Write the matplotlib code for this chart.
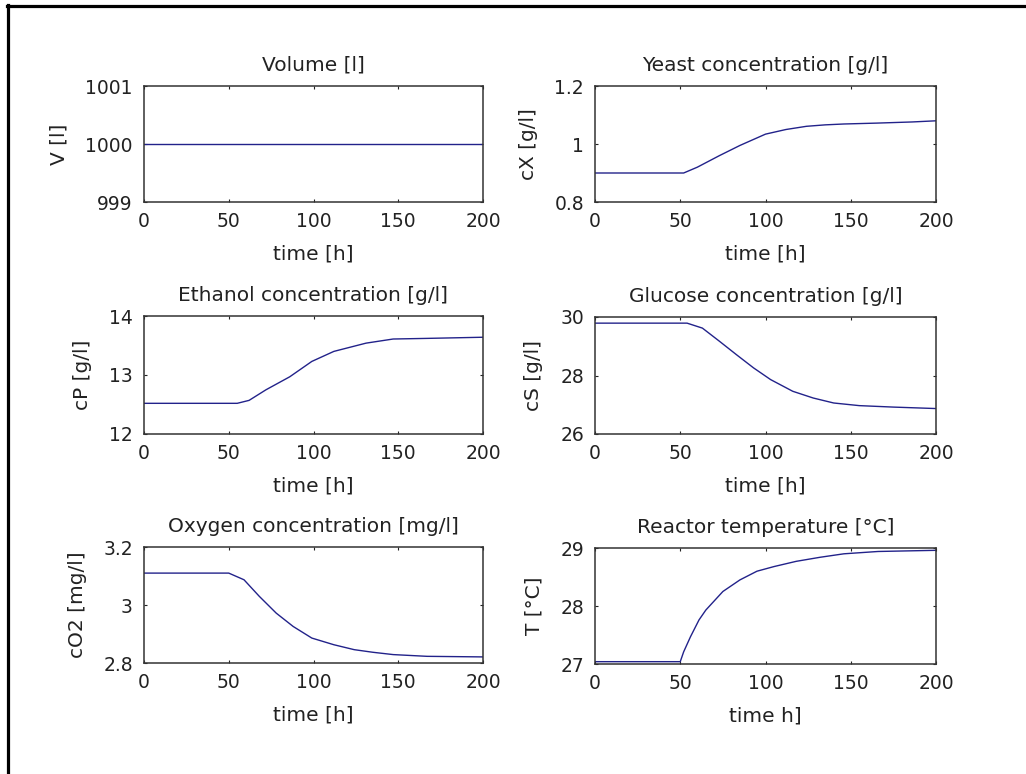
import matplotlib.pyplot as plt
from matplotlib.lines import Line2D

# time axis ticks shared by all panels
x_ticks = [0, 50, 100, 150, 200]
x_tick_labels = ['0', '50', '100', '150', '200']

# Volume [l]
t_vol = [0, 200]
vol = [1000, 1000]

# Yeast concentration [g/l]
t_cx = [0, 52, 60, 73, 85, 100, 112, 124, 135, 146, 165, 186, 200]
cx = [0.90, 0.90, 0.92, 0.96, 0.995, 1.034, 1.050, 1.061, 1.066, 1.069, 1.072, 1.076, 1.080]

# Ethanol concentration [g/l]
t_cp = [0, 55, 62, 72, 86, 99, 112, 131, 147, 166, 200]
cp = [12.52, 12.52, 12.57, 12.75, 12.97, 13.23, 13.40, 13.54, 13.61, 13.62, 13.64]

# Glucose concentration [g/l]
t_cs = [0, 54, 63, 73, 83, 93, 103, 116, 128, 140, 155, 175, 200]
cs = [29.79, 29.79, 29.62, 29.17, 28.71, 28.26, 27.86, 27.46, 27.23, 27.06, 26.97, 26.92, 26.87]

# Oxygen concentration [mg/l]
t_co2 = [0, 50, 59, 68, 78, 88, 99, 112, 124, 135, 147, 167, 200]
co2 = [3.110, 3.110, 3.087, 3.030, 2.972, 2.926, 2.886, 2.863, 2.846, 2.837, 2.829, 2.823, 2.821]

# Reactor temperature [°C]
t_temp = [0, 50, 52, 56, 61, 65, 75, 85, 95, 105, 118, 132, 146, 166, 200]
temp = [27.04, 27.04, 27.21, 27.47, 27.76, 27.93, 28.25, 28.45, 28.60, 28.68, 28.77, 28.84, 28.90, 28.94, 28.96]

panels = [
    # (t, y, title, ylabel, xlabel, ylim, yticks, ytick labels)
    (t_vol, vol, 'Volume [l]', 'V [l]', 'time [h]', (999, 1001), [999, 1000, 1001], ['999', '1000', '1001']),
    (t_cx, cx, 'Yeast concentration [g/l]', 'cX [g/l]', 'time [h]', (0.8, 1.2), [0.8, 1.0, 1.2], ['0.8', '1', '1.2']),
    (t_cp, cp, 'Ethanol concentration [g/l]', 'cP [g/l]', 'time [h]', (12, 14), [12, 13, 14], ['12', '13', '14']),
    (t_cs, cs, 'Glucose concentration [g/l]', 'cS [g/l]', 'time [h]', (26, 30), [26, 28, 30], ['26', '28', '30']),
    (t_co2, co2, 'Oxygen concentration [mg/l]', 'cO2 [mg/l]', 'time [h]', (2.8, 3.2), [2.8, 3.0, 3.2], ['2.8', '3', '3.2']),
    (t_temp, temp, 'Reactor temperature [°C]', 'T [°C]', 'time h]', (27, 29), [27, 28, 29], ['27', '28', '29']),
]

W, H = 1026, 774
# pixel boxes of the axes (left, top, right, bottom)
boxes = [
    (144, 86, 483, 202), (595, 86, 936, 202),
    (144, 316, 483, 434), (595, 317, 936, 434),
    (144, 547, 483, 663), (595, 548, 936, 664),
]

plt.rcParams['font.family'] = 'DejaVu Sans'
fs_tick = 13.5
fs_text = 14.5
txt_col = '#222222'

fig = plt.figure(figsize=(W / 100, H / 100), dpi=100)
fig.patch.set_facecolor('white')

for (t, y, title, ylabel, xlabel, ylim, yt, ytl), (l, tp, r, b) in zip(panels, boxes):
    ax = fig.add_axes([l / W, 1 - b / H, (r - l) / W, (b - tp) / H])
    ax.plot(t, y, color='#22228a', lw=1.0)
    ax.set_xlim(0, 200)
    ax.set_ylim(*ylim)
    ax.set_xticks(x_ticks)
    ax.set_xticklabels(x_tick_labels)
    ax.set_yticks(yt)
    ax.set_yticklabels(ytl)
    ax.tick_params(direction='in', top=True, right=True, length=2.5, width=0.8,
                   labelsize=fs_tick, colors=txt_col)
    ax.tick_params(axis='x', pad=7)
    ax.tick_params(axis='y', pad=8)
    for s in ax.spines.values():
        s.set_linewidth(1.1)
        s.set_color('#333333')
    ax.set_title(title, fontsize=fs_text, pad=11, color=txt_col)
    ax.set_xlabel(xlabel, fontsize=fs_text, labelpad=10, color=txt_col)
    ax.set_ylabel(ylabel, fontsize=fs_text, labelpad=12, color=txt_col)

# screenshot frame: left and top edges only
fig.add_artist(Line2D([7.5 / W, 7.5 / W], [0, 1 - 5 / H], color='black', lw=2.3,
                      transform=fig.transFigure))
fig.add_artist(Line2D([6.5 / W, 1], [1 - 5.5 / H, 1 - 5.5 / H], color='black', lw=2.3,
                      transform=fig.transFigure))

fig.savefig('out.png', dpi=100)
